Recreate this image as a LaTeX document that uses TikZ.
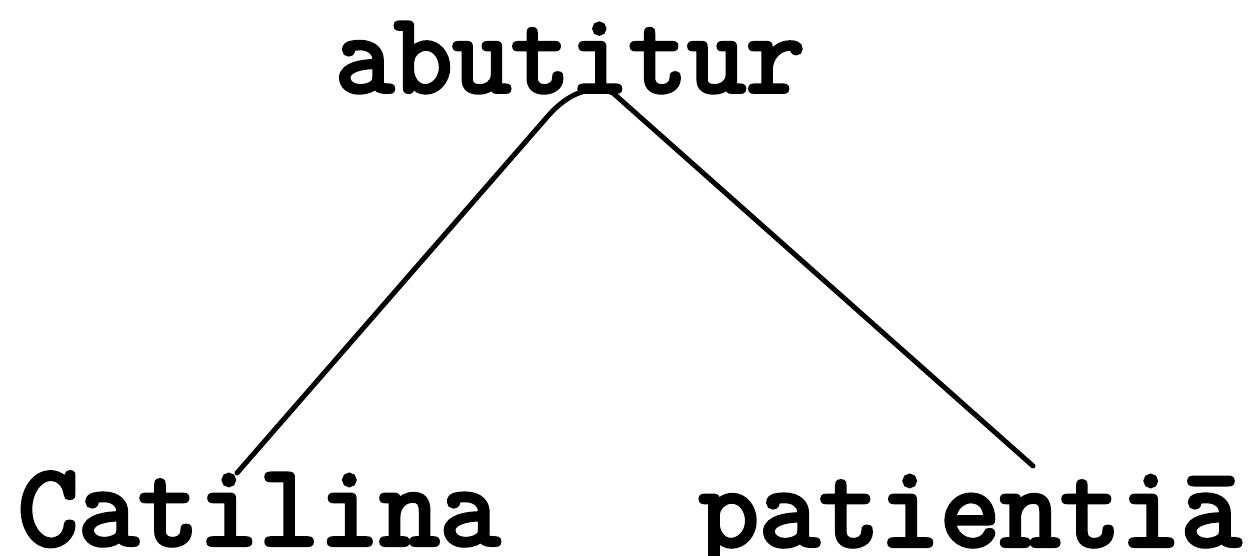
\documentclass[tikz,border=0pt]{standalone}
\usepackage{fontspec}
\newfontfamily\tw{Latin Modern Mono}[FakeBold=3.5]
\begin{document}
\begin{tikzpicture}[x=1pt,y=-1pt,
  word/.style={anchor=base,inner sep=0pt,font=\tw\fontsize{114}{114}\selectfont},
  bigword/.style={word,font=\tw\fontsize{117}{117}\selectfont},
  link/.style={line width=5pt,line cap=round,line join=round}]
\useasboundingbox (0,0) rectangle (1248,556);
\node[word] (head) at (570,92) {abutitur};
\node[bigword] (subj) at (259,545) {Catilina};
\node[bigword] (obj) at (970,546) {patientiā};
\coordinate (cL) at (237,473);
\coordinate (kL) at (548,116);
\coordinate (kR) at (613,93);
\coordinate (cR) at (1033,466);
\draw[link] (cL) -- (kL) .. controls (568,93) and (592,84) .. (kR) -- (cR);
\end{tikzpicture}
\end{document}
